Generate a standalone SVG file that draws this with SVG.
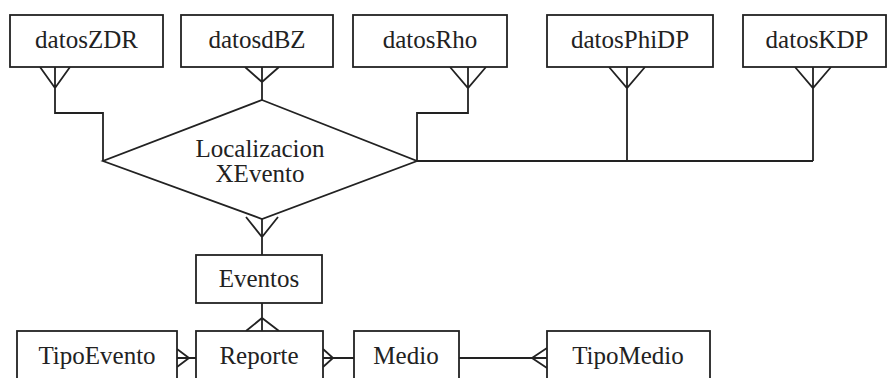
<svg xmlns="http://www.w3.org/2000/svg" width="887" height="378" viewBox="0 0 887 378">
<style>
.box{fill:#fff;stroke:#222;stroke-width:1.8}
.ln{fill:none;stroke:#222;stroke-width:1.8}
.t{font-family:"Liberation Serif","Times New Roman",serif;font-size:25px;fill:#222;text-anchor:middle}
</style>
<rect width="887" height="378" fill="#fff"/>
<g id="connectors" class="ln">
  <path d="M40,67 L55,88 L70,67 M55,67 L55,113 L103,113 L103,161"/>
  <path d="M245,67 L262,82 L279,67 M262,67 L262,100"/>
  <path d="M450,67 L468,88 L486,67 M468,67 L468,113 L417,113 L417,161 L813,161"/>
  <path d="M609,67 L627,88 L645,67 M627,67 L627,161"/>
  <path d="M795,67 L813,88 L831,67 M813,67 L813,161"/>
  <path d="M246,217 L262,237 L278,217 M262,219 L262,255"/>
  <path d="M262,303 L262,331 M246,331 L262,318 L279,331"/>
  <path d="M177,349 L189,358 L177,367 M177,358 L196,358"/>
  <path d="M323,349 L333,358 L323,367 M323,358 L354,358"/>
  <path d="M459,358 L547,358 M547,348 L532,358 L547,368"/>
</g>
<g id="datosZDR"><rect class="box" x="10" y="15" width="153" height="52"/><text class="t" x="86.5" y="48">datosZDR</text></g>
<g id="datosdBZ"><rect class="box" x="181" y="15" width="152" height="52"/><text class="t" x="257" y="48">datosdBZ</text></g>
<g id="datosRho"><rect class="box" x="353" y="15" width="154" height="52"/><text class="t" x="430" y="48">datosRho</text></g>
<g id="datosPhiDP"><rect class="box" x="547" y="15" width="166" height="52"/><text class="t" x="630" y="48">datosPhiDP</text></g>
<g id="datosKDP"><rect class="box" x="743" y="15" width="143" height="52"/><text class="t" x="817" y="48">datosKDP</text></g>
<g id="LocalizacionXEvento">
  <polygon class="box" points="262,100 417,161 262,219 103,161"/>
  <text class="t" x="260" y="157">Localizacion</text>
  <text class="t" x="260" y="182">XEvento</text>
</g>
<g id="Eventos"><rect class="box" x="196" y="255" width="126" height="48"/><text class="t" x="259" y="287">Eventos</text></g>
<g id="TipoEvento"><rect class="box" x="17" y="331" width="160" height="60"/><text class="t" x="97" y="364">TipoEvento</text></g>
<g id="Reporte"><rect class="box" x="196" y="331" width="127" height="60"/><text class="t" x="259" y="364">Reporte</text></g>
<g id="Medio"><rect class="box" x="354" y="331" width="105" height="60"/><text class="t" x="406" y="364">Medio</text></g>
<g id="TipoMedio"><rect class="box" x="547" y="331" width="163" height="60"/><text class="t" x="628" y="364">TipoMedio</text></g>
</svg>
